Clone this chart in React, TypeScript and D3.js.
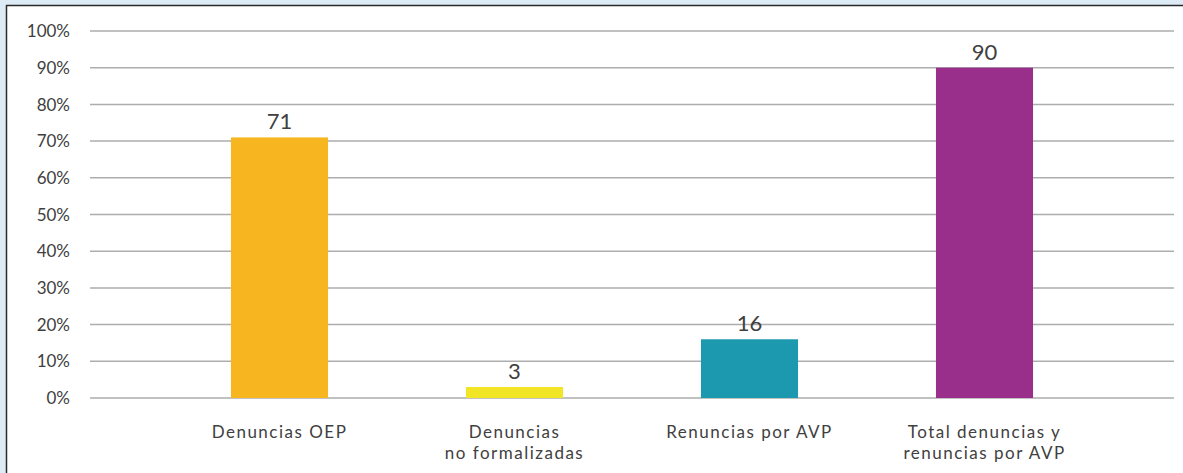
import React from "react";
import * as d3 from "d3";

const categories: string[][] = [
  ["Denuncias OEP"],
  ["Denuncias", "no formalizadas"],
  ["Renuncias por AVP"],
  ["Total denuncias y", "renuncias por AVP"],
];
const values: number[] = [71, 3, 16, 90];
const colors: string[] = ["#F7B520", "#F2E526", "#1C98AF", "#992F8A"];
const ticks: number[] = [0, 10, 20, 30, 40, 50, 60, 70, 80, 90, 100];

const W = 1183;
const H = 473;
const FONT = "Lato, 'Open Sans', 'Liberation Sans', sans-serif";
const TEXT = "#404040";

export default function App() {
  const y = d3.scaleLinear().domain([0, 100]).range([398, 31]);
  const x = d3
    .scaleBand<number>()
    .domain(values.map((_, i) => i))
    .range([162, 1102])
    .paddingInner(0.587)
    .paddingOuter(0.2935);
  const gridX1 = 90;
  const gridX2 = 1174;
  return (
    <svg
      width={W}
      height={H}
      style={{ position: "absolute", left: 0, top: 0, display: "block" }}
    >
      <rect x={0} y={0} width={W} height={H} fill="#DCEBF5" />
      <rect x={6} y={5} width={W - 6} height={H - 5} fill="#ffffff" />
      <line x1={6} y1={5.5} x2={W} y2={5.5} stroke="#2a2a2a" strokeWidth={1.5} />
      <line x1={6.5} y1={5} x2={6.5} y2={H} stroke="#2a2a2a" strokeWidth={1.5} />
      {ticks.map((t) => (
        <g key={t}>
          <line
            x1={gridX1}
            x2={gridX2}
            y1={y(t)}
            y2={y(t)}
            stroke="#ADADAD"
            strokeWidth={1.5}
          />
          <text
            x={70}
            y={y(t)}
            dy="0.36em"
            textAnchor="end"
            fontFamily={FONT}
            fontSize={17}
            fill={TEXT}
          >
            {t}%
          </text>
        </g>
      ))}
      {values.map((v, i) => {
        const bx = x(i)!;
        const bw = x.bandwidth();
        const cx = bx + bw / 2;
        return (
          <g key={i}>
            <rect x={bx} y={y(v)} width={bw} height={y(0) - y(v)} fill={colors[i]} />
            <text
              x={cx}
              y={y(v) - 16}
              dy="0.36em"
              textAnchor="middle"
              fontFamily={FONT}
              fontSize={22}
              fill={TEXT}
            >
              {v}
            </text>
            {categories[i].map((line, j) => (
              <text
                key={j}
                x={cx}
                y={431.5 + j * 21}
                dy="0.36em"
                textAnchor="middle"
                fontFamily={FONT}
                fontSize={17}
                letterSpacing={1.5}
                fill={TEXT}
              >
                {line}
              </text>
            ))}
          </g>
        );
      })}
    </svg>
  );
}
